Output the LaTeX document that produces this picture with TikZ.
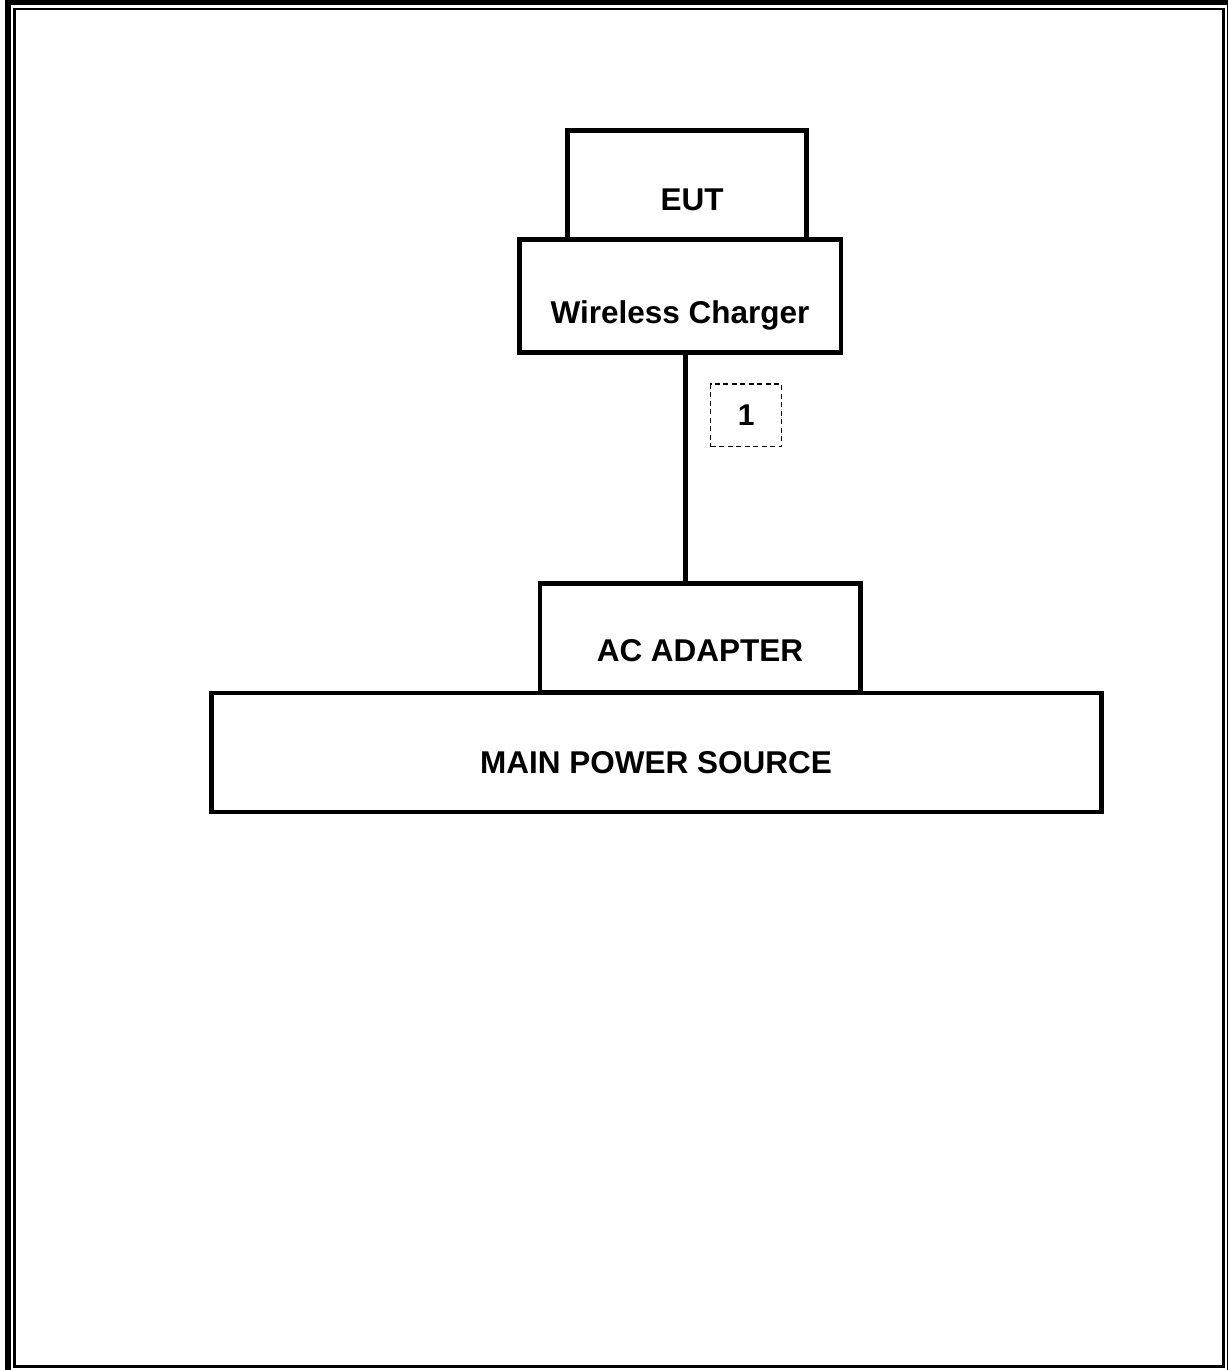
\documentclass[tikz,border=0pt]{standalone}
\usepackage{fontspec}
\setmainfont{Liberation Sans}
\begin{document}
\begin{tikzpicture}[x=1pt,y=-1pt,
  box/.style={draw=black,line width=4.6pt,rectangle,inner sep=0pt,fill=white},
  lbl/.style={font=\bfseries\fontsize{31.5}{36}\selectfont,inner sep=0pt,anchor=base},
  numbox/.style={draw=black,dashed,dash pattern=on 5pt off 3.5pt,line width=1.5pt,minimum width=71pt,minimum height=62.5pt,inner sep=0pt,font=\bfseries\fontsize{30}{34}\selectfont}]
\useasboundingbox (0,0) rectangle (1228,1370);
\clip (0,0) rectangle (1228,1370);
% frame
\draw[line width=6.5pt] (8.2,1.8) rectangle (1230.5,1373.5);
\draw[line width=2.4pt] (14.3,9) rectangle (1223.5,1366.4);
% boxes
\node[box,minimum width=239pt,minimum height=110.5pt] (eut) at (687,185.8) {};
\node[box,minimum width=321.5pt,minimum height=113.5pt] (wc) at (680.2,296) {};
\node[box,minimum width=320.5pt,minimum height=109pt] (ac) at (700.3,638) {};
\node[box,minimum width=890pt,minimum height=119pt] (mps) at (656.5,752.3) {};
% labels
\node[lbl] (teut) at (692,210) {EUT};
\node[lbl] (twc) at (680,323) {Wireless Charger};
\node[lbl] (tac) at (700,661.5) {AC ADAPTER};
\node[lbl] (tmps) at (656,773.5) {MAIN POWER SOURCE};
% cable
\draw[line width=5pt] (wc.south -| 685.8,0) -- (ac.north -| 685.8,0);
\node[numbox] (n1) at (746.2,415.3) {1};
\end{tikzpicture}
\end{document}
